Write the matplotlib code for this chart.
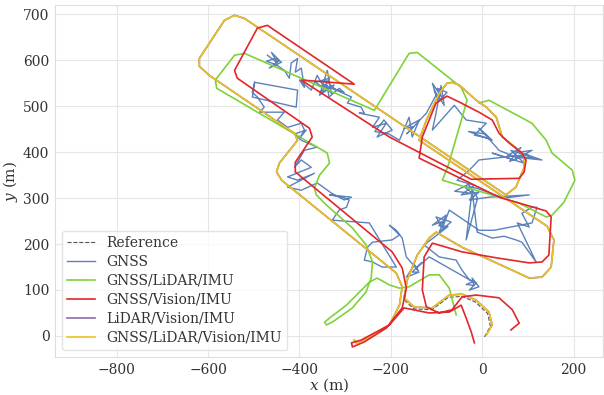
import matplotlib
matplotlib.use('Agg')
import matplotlib.pyplot as plt

plt.rcParams['font.family'] = ['DejaVu Serif']
plt.rcParams['mathtext.fontset'] = 'dejavuserif'

# Reference (visible tail only differs from the fused solution)
ref_tail_x = [5, 18, 12, -15, -44, -74, -110, -150, -170, -165]
ref_tail_y = [-2, 21, 49, 74, 86, 84, 57, 59, 78, 120]

# GNSS/LiDAR/Vision/IMU
yel_x = [9, 22, 15, -13, -44, -72, -109, -149, -171, -164, -142, -116, -101, -44, 31, 103, 131, 151, 157, 142,
         -138, -122, -94, -77, -66, -50, -13, 9, 31, 44, 81, 92, 92, 74, 52,
         -520, -542, -564, -619, -619, -597, -411, -404, -444, -450, -439, -188, -175, -181, -203, -247, -275, -280]
yel_y = [2, 24, 52, 78, 91, 89, 61, 63, 83, 122, 176, 213, 226, 193, 159, 126, 128, 150, 209, 239,
         426, 470, 528, 550, 552, 546, 513, 498, 476, 433, 404, 391, 367, 324, 307,
         691, 698, 687, 604, 587, 567, 441, 426, 376, 357, 339, 137, 107, 67, 24, -4, -15, -9]

# LiDAR/Vision/IMU (lies under the yellow trace)
pur_x = yel_x
pur_y = yel_y

ref_x = ref_tail_x + yel_x[10:]
ref_y = ref_tail_y + yel_y[10:]

# GNSS/Vision/IMU
red_x = [63, 81, 66, 37, -13, -44, -66, -94, -122, -131, -127, -109, -44, 31, 103, 131, 146, 151, 140, 37,
         -138, -131, -101, -77, -50, -7, 22, 37, 59, 87, 96, 92, 81, -24, -203, -396, -280, -470, -492,
         -542, -536, -378, -372, -409, -409, -197, -175, -166, -175, -210, -258, -284, -286, -265, -203,
         -171, -116, -72, -46, -35, -24, -17]
red_y = [13, 28, 57, 83, 89, 85, 57, 50, 63, 100, 172, 202, 183, 170, 159, 161, 176, 259, 272, 302,
         387, 433, 507, 522, 509, 487, 470, 441, 420, 398, 383, 357, 343, 341, 433, 557, 548, 676, 670,
         578, 561, 452, 433, 378, 357, 183, 148, 104, 61, 17, -13, -24, -15, -9, 24,
         61, 50, 52, 67, 39, 9, -15]

# GNSS/LiDAR/IMU
grn_x = [-57, -72, -94, -116, -160, -181, -203, -230, -247, -297, -334, -345, -341, -328, -284, -254, -243,
         -240, -254, -284, -341, -363, -367, -356, -334, -339, -581, -584, -542, -520, -236, -160, -142,
         -46, -33, -74, -87, 81, 140, 153, 179, 203, 197, 153, 140, 109, 15, -7]
grn_y = [46, 104, 133, 133, 107, 104, 111, 126, 117, 67, 39, 30, 24, 30, 61, 96, 126,
         161, 198, 235, 285, 307, 322, 350, 376, 398, 539, 557, 611, 615, 491, 615, 617,
         541, 513, 372, 339, 289, 259, 263, 291, 339, 361, 398, 426, 463, 513, 507]

# GNSS
gnss_x = [-470, -448, -461, -444, -466, -439, -453, -472, -450, -433, -422, -418, -404, -409, -396, -389, -400, -374,
          -361, -345, -365, -334, -352, -324, -356, -339, -330, -348, -320, -342, -335, -313, -302, -330, -286,
          -295, -265, -258,
          -269, -225, -240, -210, -230, -197, -215, -235, -205, -181, -160, -153, -138, -171, -150, -165,
          -122, -101, -109, -87, -98, -77, -95, -105, -83, -90, -101, -109,
          -61, -35, 9, -17, 15, -7, 22, -30, 5,
          37, 74, 131, 81, 109, 70, 22, 92, 63, 114, 55, 85, 60, 100, -7,
          -28, -55, -17, -46, -7, -28, 15, 103, 48, -13, -40, -20, -60, -30, -10,
          -35, -22, -11, 22, 48, 74, 87, 118, 77, 103, 87, 109, 120, 109, 26, -7,
          -72, -87, -101, -68, -94, -79, -109, -85, -95, -75, -127,
          -94, -57, -44, -28, -13, -28, -7, -22, -18, -35, -20,
          -116, -144, -133, -153, -138, -166, -148, -140, -166,
          -175, -188, -203, -181, -197, -240, -251, -258, -240, -219, -188, -247, -328, -313, -297,
          -291, -306, -334, -286, -302, -330, -361, -396, -426, -367, -404, -426, -374, -396, -411,
          -389, -361, -396, -410, -385, -400, -389, -396, -426, -448, -433, -487, -477, -492, -503,
          -498, -404, -407, -503, -498]
gnss_y = [611, 594, 617, 600, 583, 596, 604, 598, 590, 578, 561, 594, 604, 574, 583, 541, 557, 535,
          567, 539, 552, 561, 530, 546, 524, 578, 528, 548, 535, 556, 520, 539, 530, 540, 520,
          507, 498, 485,
          485, 476, 454, 463, 433, 448, 470, 445, 440, 426, 476, 433, 470, 452, 455, 440,
          485, 524, 550, 517, 539, 530, 510, 535, 502, 545, 485, 448,
          502, 470, 463, 437, 430, 452, 426, 445, 440,
          404, 389, 383, 400, 404, 383, 398, 376, 404, 387, 392, 410, 380, 395, 383,
          361, 339, 328, 307, 313, 296, 302, 307, 300, 322, 325, 310, 315, 330, 300,
          209, 317, 226, 213, 217, 209, 204, 161, 246, 237, 267, 280, 280, 246, 230, 230,
          274, 235, 259, 248, 226, 263, 241, 250, 240, 238, 198,
          172, 165, 143, 122, 115, 100, 107, 126, 110, 112, 118,
          172, 148, 159, 139, 139, 128, 155, 142, 172,
          213, 230, 241, 220, 209, 204, 193, 165, 161, 150, 150, 246, 252, 274, 280,
          296, 302, 307, 302, 296, 311, 333, 317, 324, 354, 339, 346, 367, 383, 367,
          404, 411, 426, 440, 448, 430, 448, 463, 454, 470, 487, 487, 498, 520, 530,
          552, 535, 498, 520, 552]

fig = plt.figure(figsize=(6.04, 3.95), dpi=100)
ax = fig.add_axes([0.091, 0.096, 0.907, 0.891])

ax.plot(ref_x, ref_y, color='#555555', ls='--', lw=0.8, label='Reference', zorder=2)
ax.plot(gnss_x, gnss_y, color='#4a74b4', lw=1.0, alpha=0.9, label='GNSS', zorder=3)
ax.plot(grn_x, grn_y, color='#7fd23a', lw=1.2, label='GNSS/LiDAR/IMU', zorder=4)
ax.plot(red_x, red_y, color='#e2262a', lw=1.2, label='GNSS/Vision/IMU', zorder=5)
ax.plot(pur_x, pur_y, color='#8c6bac', lw=1.2, label='LiDAR/Vision/IMU', zorder=4)
ax.plot(yel_x, yel_y, color='#ecc21e', lw=1.2, label='GNSS/LiDAR/Vision/IMU', zorder=4.5)

ax.set_xlim(-935, 264)
ax.set_ylim(-46, 720)
ax.set_xticks([-800, -600, -400, -200, 0, 200])
ax.set_yticks([0, 100, 200, 300, 400, 500, 600, 700])
ax.grid(True, color='#e6e6e6', lw=0.8)
ax.set_axisbelow(True)
for s in ax.spines.values():
    s.set_color('#dddddd')
ax.tick_params(length=0, labelsize=10, colors='#333333', pad=4)
ax.set_xlabel('$x$ (m)', fontsize=11, color='#333333', labelpad=0)
ax.set_ylabel('$y$ (m)', fontsize=11, color='#333333', labelpad=2)

leg = ax.legend(loc='lower left', fontsize=10, frameon=True, labelspacing=0.35)
leg.get_frame().set_edgecolor('#dddddd')
for t in leg.get_texts():
    t.set_color('#333333')

fig.savefig('out.png', dpi=100)
